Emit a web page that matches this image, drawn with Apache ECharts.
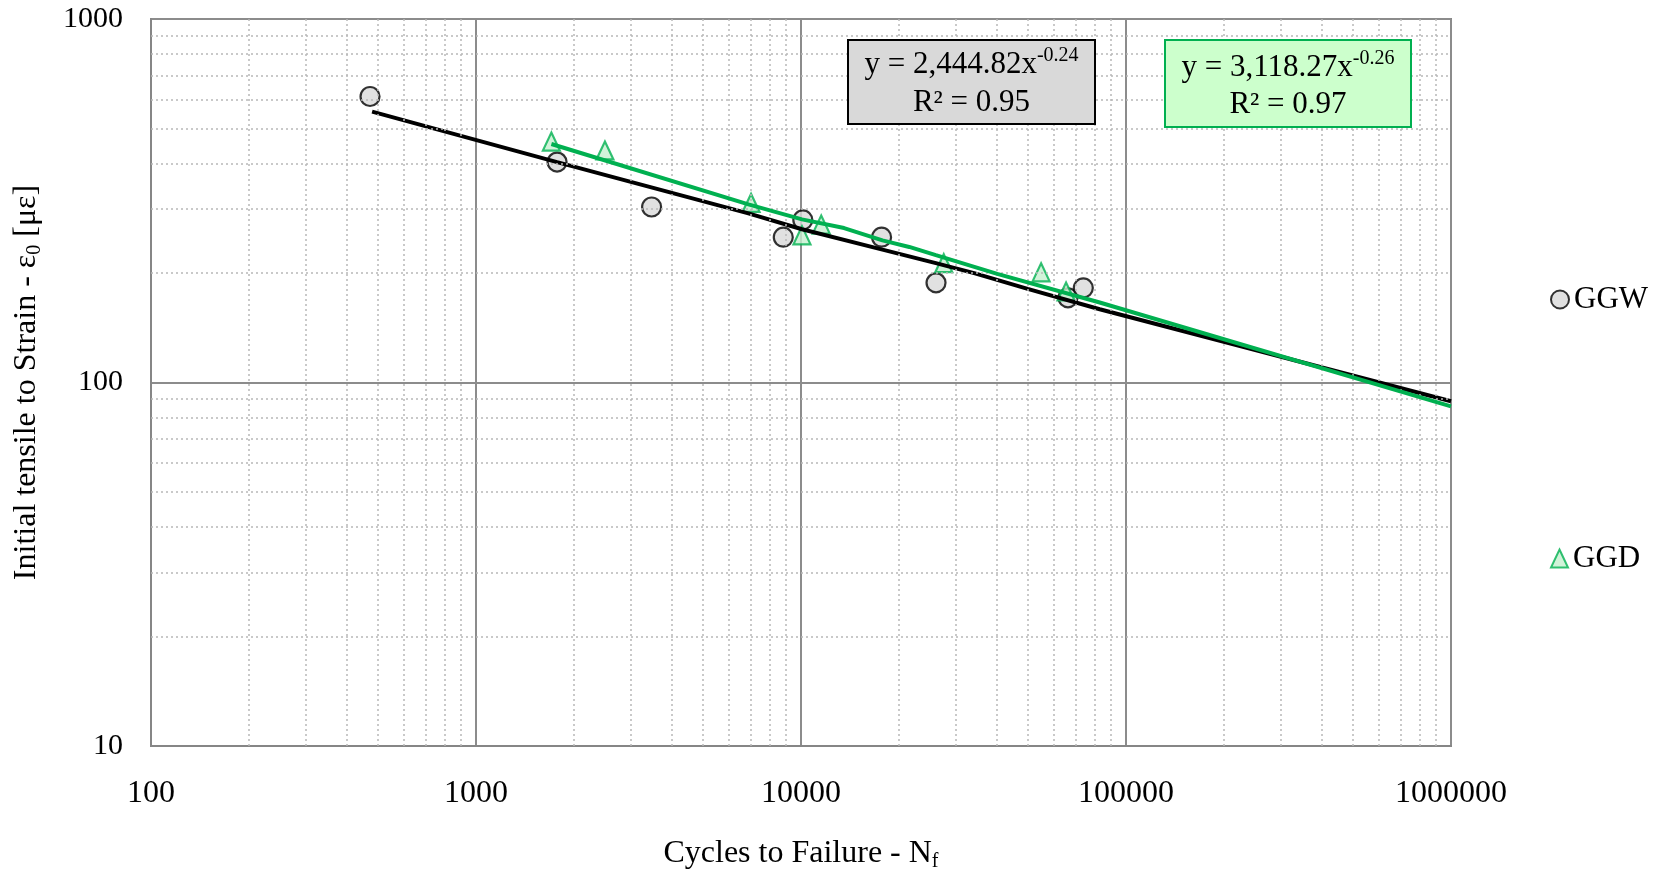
<!DOCTYPE html>
<html>
<head>
<meta charset="utf-8">
<script src="https://cdn.jsdelivr.net/npm/echarts@6/dist/echarts.min.js"></script>
<style>html,body{margin:0;padding:0;background:#fff}#c{width:1659px;height:877px}</style>
</head>
<body>
<div id="c"></div>
<script>
// ---- data ----
const ggwCycles = [472, 1776, 3470, 8820, 10130, 17700, 26030, 66300, 73900];
const ggwStrain = [612, 404, 304, 251, 280, 251, 188, 171, 182];
const ggdCycles = [1706, 2493, 7020, 10070, 11540, 27500, 54800, 65400];
const ggdStrain = [460, 435, 312, 254, 272, 213, 201, 178];
// trendlines (as drawn in the picture)
const ggwTrendCycles = [479, 1776, 6890, 10070, 17810, 26000, 34100, 49830, 83000, 1000000];
const ggwTrendStrain = [556, 404, 292, 264, 232, 213, 200, 181, 159, 88.8];
const ggdTrendCycles = [1706, 6890, 10070, 13570, 17810, 21530, 26000, 40160, 83000, 1000000];
const ggdTrendStrain = [453, 309, 281, 266, 246, 236, 224, 199, 166, 86];
// axis ticks
const xDecades = [100, 1000, 10000, 100000];
const yDecades = [10, 100];
const minorMultiples = [2, 3, 4, 5, 6, 7, 8, 9];
const seriesNames = ['GGW', 'GGD'];

const FONT = 'Liberation Serif';
const pairs = (xs, ys) => xs.map((x, i) => [x, ys[i]]);

const minorX = [];
xDecades.forEach(d => minorMultiples.forEach(m => minorX.push({ xAxis: d * m })));
const minorY = [];
yDecades.forEach(d => minorMultiples.forEach(m => minorY.push({ yAxis: d * m })));

const chart = echarts.init(document.getElementById('c'), null, { renderer: 'canvas' });
const fmt = v => String(Math.round(v));

const boxRich = (lh) => ({
  a: { fontFamily: FONT, fontSize: 31, fill: '#000', lineHeight: lh, align: 'center' },
  sup: { fontFamily: FONT, fontSize: 20, fill: '#000', lineHeight: 22, verticalAlign: 'top', align: 'center' }
});

chart.setOption({
  animation: false,
  backgroundColor: '#fff',
  grid: { left: 151, right: 208, top: 19, bottom: 130, show: true, borderColor: '#868686', borderWidth: 2, backgroundColor: 'transparent' },
  xAxis: {
    type: 'log', logBase: 10, min: 100, max: 1000000,
    name: '{a|Cycles to Failure - N}{sub|f}',
    nameLocation: 'middle', nameGap: 90,
    nameTextStyle: {
      rich: {
        a: { fontFamily: FONT, fontSize: 32, color: '#000', lineHeight: 36 },
        sub: { fontFamily: FONT, fontSize: 20, color: '#000', lineHeight: 18, verticalAlign: 'bottom' }
      }
    },
    axisLine: { show: true, lineStyle: { color: '#868686', width: 2 } },
    axisTick: { show: false },
    axisLabel: { formatter: fmt, fontFamily: FONT, fontSize: 32, color: '#000', margin: 32, showMinLabel: true, showMaxLabel: true },
    splitLine: { show: true, lineStyle: { color: '#8c8c8c', width: 2 } }
  },
  yAxis: {
    type: 'log', logBase: 10, min: 10, max: 1000,
    name: '{a|Initial tensile to Strain - ε}{sub|0}{a| [με]}',
    nameLocation: 'middle', nameGap: 106,
    nameTextStyle: {
      rich: {
        a: { fontFamily: FONT, fontSize: 32, color: '#000', lineHeight: 36 },
        sub: { fontFamily: FONT, fontSize: 20, color: '#000', lineHeight: 18, verticalAlign: 'bottom' }
      }
    },
    axisLine: { show: true, lineStyle: { color: '#868686', width: 2 } },
    axisTick: { show: false },
    axisLabel: { formatter: fmt, fontFamily: FONT, fontSize: 30, color: '#000', margin: 28, showMinLabel: true, showMaxLabel: true },
    splitLine: { show: true, lineStyle: { color: '#8c8c8c', width: 2 } }
  },
  legend: [
    { data: ['GGW'], orient: 'vertical', left: 1550, top: 284, padding: 0, itemWidth: 18, itemHeight: 18,
      textStyle: { fontFamily: FONT, fontSize: 31, color: '#000', lineHeight: 30 } },
    { data: ['GGD'], orient: 'vertical', left: 1550, top: 543, padding: 0, itemWidth: 17, itemHeight: 18,
      textStyle: { fontFamily: FONT, fontSize: 31, color: '#000', lineHeight: 30 } }
  ],
  graphic: [
    {
      type: 'text', left: 847, top: 39, z: 100,
      style: {
        text: '{a|y = 2,444.82x}{sup|-0.24}\n{a|R² = 0.95}',
        width: 225, align: 'center',
        backgroundColor: '#d9d9d9', borderColor: '#000', borderWidth: 2, padding: [5, 10, 1, 10],
        rich: boxRich(38)
      }
    },
    {
      type: 'text', left: 1164, top: 39, z: 100,
      style: {
        text: '{a|y = 3,118.27x}{sup|-0.26}\n{a|R² = 0.97}',
        width: 224, align: 'center',
        backgroundColor: '#ccffcc', borderColor: '#00b050', borderWidth: 2, padding: [8, 10, 3, 10],
        rich: boxRich(37)
      }
    }
  ],
  series: [
    {
      name: 'minor-grid', type: 'line', data: [], silent: true, z: 1,
      markLine: {
        silent: true, symbol: 'none', label: { show: false }, animation: false,
        lineStyle: { color: '#b8b8b8', width: 1.5, type: [2, 3] },
        data: minorX.concat(minorY)
      }
    },
    {
      name: seriesNames[0], type: 'scatter', z: 3,
      data: pairs(ggwCycles, ggwStrain),
      symbol: 'circle', symbolSize: 19,
      itemStyle: { color: '#d9d9d9', borderColor: '#000', borderWidth: 2.2 }
    },
    {
      name: seriesNames[1], type: 'scatter', z: 3,
      data: pairs(ggdCycles, ggdStrain),
      symbol: 'triangle', symbolSize: [17, 18],
      itemStyle: { color: '#c6f0cf', borderColor: '#00b050', borderWidth: 2.2 }
    },
    {
      name: 'GGW trend', type: 'line', z: 4, showSymbol: false, symbol: 'none',
      data: pairs(ggwTrendCycles, ggwTrendStrain),
      lineStyle: { color: '#000', width: 4 }
    },
    {
      name: 'GGD trend', type: 'line', z: 5, showSymbol: false, symbol: 'none',
      data: pairs(ggdTrendCycles, ggdTrendStrain),
      lineStyle: { color: '#00b050', width: 4 }
    }
  ]
});
</script>
</body>
</html>
